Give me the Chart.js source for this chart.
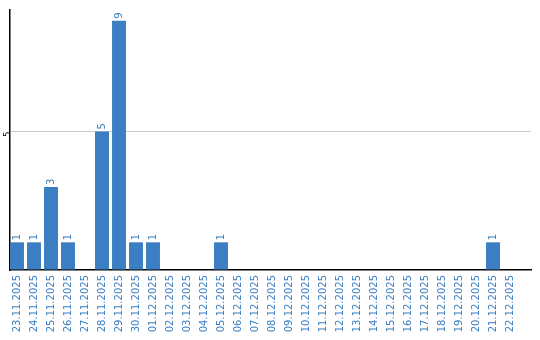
<!DOCTYPE html>
<html>
<head>
<meta charset="utf-8">
<script src="https://cdn.jsdelivr.net/npm/chart.js@4/dist/chart.umd.min.js"></script>
<style>
  html, body { margin: 0; padding: 0; background: #fff; overflow: hidden; }
  #wrap { width: 540px; height: 340px; position: relative; }
  canvas { display: block; }
</style>
</head>
<body>
<div id="wrap"><canvas id="visits"></canvas></div>
<script>
const dayLabels = [
  "23.11.2025", "24.11.2025", "25.11.2025", "26.11.2025", "27.11.2025",
  "28.11.2025", "29.11.2025", "30.11.2025", "01.12.2025", "02.12.2025",
  "03.12.2025", "04.12.2025", "05.12.2025", "06.12.2025", "07.12.2025",
  "08.12.2025", "09.12.2025", "10.12.2025", "11.12.2025", "12.12.2025",
  "13.12.2025", "14.12.2025", "15.12.2025", "16.12.2025", "17.12.2025",
  "18.12.2025", "19.12.2025", "20.12.2025", "21.12.2025", "22.12.2025",
];
const dayCounts = [1, 1, 3, 1, 0, 5, 9, 1, 1, 0, 0, 0, 1, 0, 0, 0, 0, 0, 0, 0, 0, 0, 0, 0, 0, 0, 0, 0, 1, 0];
const yTicks = [5];

const blue = "rgb(59, 126, 194)";
const font = "DejaVu Sans";

// values above the bars, written bottom-to-top
const barValues = {
  id: "barValues",
  afterDatasetsDraw(chart) {
    const ctx = chart.ctx;
    const meta = chart.getDatasetMeta(0);
    ctx.save();
    ctx.fillStyle = blue;
    ctx.font = "10px '" + font + "'";
    ctx.textAlign = "left";
    ctx.textBaseline = "middle";
    meta.data.forEach((bar, i) => {
      const v = dayCounts[i];
      if (!v) return;
      ctx.save();
      ctx.translate(bar.x, bar.y - 2);
      ctx.rotate(-Math.PI / 2);
      ctx.fillText(String(v), 0, 0);
      ctx.restore();
    });
    ctx.restore();
  },
};

new Chart(document.getElementById("visits"), {
  type: "bar",
  data: {
    datasets: [
      {
        data: dayCounts.map((v, i) => ({ x: i, y: v })),
        backgroundColor: blue,
        borderWidth: 0,
        barPercentage: 0.82,
        categoryPercentage: 1,
      },
    ],
  },
  options: {
    responsive: true,
    maintainAspectRatio: false,
    animation: false,
    layout: { padding: { top: 10, right: 9, left: 0, bottom: 0 } },
    plugins: { legend: { display: false }, tooltip: { enabled: false } },
    scales: {
      x: {
        type: "linear",
        min: -0.4118,
        max: 30.235,
        offset: false,
        afterFit: (s) => {
          s.height = 70;
          s.paddingLeft = 0;
          s.paddingRight = 0;
        },
        grid: { display: false, drawTicks: false },
        border: { color: "#000", width: 1.5 },
        ticks: {
          stepSize: 1,
          includeBounds: false,
          autoSkip: false,
          minRotation: 90,
          maxRotation: 90,
          padding: 5,
          color: blue,
          font: { family: font, size: 10 },
          callback: (v) => dayLabels[v] ?? "",
        },
      },
      y: {
        min: 0,
        max: 9.39,
        afterFit: (s) => {
          s.width = 10;
          s.paddingTop = 0;
          s.paddingBottom = 0;
        },
        afterBuildTicks: (s) => { s.ticks = [0].concat(yTicks).map((v) => ({ value: v })); },
        grid: {
          drawTicks: false,
          color: (c) => (c.tick && c.tick.value === 0 ? "rgba(0,0,0,0)" : "#cccccc"),
        },
        border: { color: "#000", width: 1.5 },
        ticks: {
          minRotation: 90,
          maxRotation: 90,
          padding: 2,
          color: "#000",
          font: { family: font, size: 8 },
          callback: (v) => (yTicks.includes(v) ? String(v) : ""),
        },
      },
    },
  },
  plugins: [barValues],
});
</script>
</body>
</html>
